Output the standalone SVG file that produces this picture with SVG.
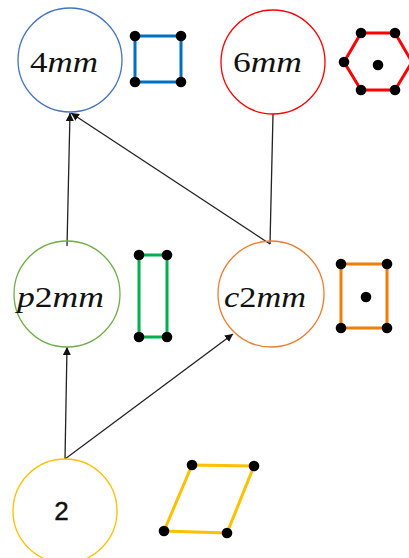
<svg xmlns="http://www.w3.org/2000/svg" width="409" height="558" viewBox="0 0 409 558">
<style>
.node{fill:none;stroke-width:1.3}
.lbl{font-family:"Liberation Serif","DejaVu Serif",serif;font-size:30px;fill:#111}
.it{font-style:italic}
.cell{fill:none;stroke-width:3;stroke-linejoin:round}
.dot{fill:#000}
.conn{stroke:#222;stroke-width:1.3;fill:none}
</style>
<defs>
<marker id="ah" viewBox="0 0 10 10" refX="10" refY="5" markerWidth="8" markerHeight="8" markerUnits="userSpaceOnUse" orient="auto">
<path d="M0,0 L10,5 L0,10 z" fill="#111"/>
</marker>
</defs>
<g id="connectors">
<line class="conn" x1="65" y1="459" x2="67" y2="347" marker-end="url(#ah)"/>
<line class="conn" x1="65" y1="459" x2="233" y2="334" marker-end="url(#ah)"/>
<line class="conn" x1="67" y1="246" x2="70" y2="113" marker-end="url(#ah)"/>
<line class="conn" x1="270" y1="244" x2="71" y2="113" marker-end="url(#ah)"/>
<line class="conn" x1="270" y1="244" x2="273" y2="114"/>
</g>
<g id="n4mm">
<circle class="node" cx="70" cy="60" r="52" stroke="#4472C4"/>
<text class="lbl" x="30" y="72" textLength="68" lengthAdjust="spacingAndGlyphs">4<tspan class="it">mm</tspan></text>
<path class="cell" d="M135,36 H181 V82 H135 Z" stroke="#0070C0"/>
<circle class="dot" cx="135" cy="36" r="5.3"/><circle class="dot" cx="181" cy="36" r="5.3"/>
<circle class="dot" cx="135" cy="82" r="5.3"/><circle class="dot" cx="181" cy="82" r="5.3"/>
</g>
<g id="n6mm">
<circle class="node" cx="273" cy="62" r="52" stroke="#FF0000"/>
<text class="lbl" x="233" y="72" textLength="69" lengthAdjust="spacingAndGlyphs">6<tspan class="it">mm</tspan></text>
<path class="cell" d="M361,33 H395 L412,62 L395,90 H361 L344,62 Z" stroke="#FF0000"/>
<circle class="dot" cx="361" cy="33" r="5.3"/><circle class="dot" cx="395" cy="33" r="5.3"/>
<circle class="dot" cx="344" cy="62" r="5.3"/>
<circle class="dot" cx="361" cy="90" r="5.3"/><circle class="dot" cx="395" cy="90" r="5.3"/>
<circle class="dot" cx="378" cy="65" r="5.3"/>
</g>
<g id="np2mm">
<circle class="node" cx="67" cy="294" r="53" stroke="#70AD47"/>
<text class="lbl" x="17" y="307" textLength="87" lengthAdjust="spacingAndGlyphs"><tspan class="it">p</tspan>2<tspan class="it">mm</tspan></text>
<path class="cell" d="M139,255 H167 V337 H139 Z" stroke="#00B050"/>
<circle class="dot" cx="139" cy="255" r="5.3"/><circle class="dot" cx="167" cy="255" r="5.3"/>
<circle class="dot" cx="139" cy="337" r="5.3"/><circle class="dot" cx="167" cy="337" r="5.3"/>
</g>
<g id="nc2mm">
<circle class="node" cx="271" cy="294" r="53" stroke="#ED7D31"/>
<text class="lbl" x="224" y="307" textLength="82" lengthAdjust="spacingAndGlyphs"><tspan class="it">c</tspan>2<tspan class="it">mm</tspan></text>
<path class="cell" d="M341,264 H387 V328 H341 Z" stroke="#F07F09"/>
<circle class="dot" cx="341" cy="264" r="5.3"/><circle class="dot" cx="387" cy="264" r="5.3"/>
<circle class="dot" cx="341" cy="328" r="5.3"/><circle class="dot" cx="387" cy="328" r="5.3"/>
<circle class="dot" cx="366" cy="297" r="5.3"/>
</g>
<g id="n2">
<circle class="node" cx="65" cy="511" r="52" stroke="#FFC000"/>
<text x="61.5" y="520" text-anchor="middle" font-family="'Liberation Sans','DejaVu Sans',sans-serif" font-size="26" fill="#111" stroke="#111" stroke-width="0.4">2</text>
<path class="cell" d="M192,465 L254,466 L227,533 L164,531 Z" stroke="#FFC000"/>
<circle class="dot" cx="192" cy="465" r="5.3"/><circle class="dot" cx="254" cy="466" r="5.3"/>
<circle class="dot" cx="164" cy="531" r="5.3"/><circle class="dot" cx="227" cy="533" r="5.3"/>
</g>
</svg>
